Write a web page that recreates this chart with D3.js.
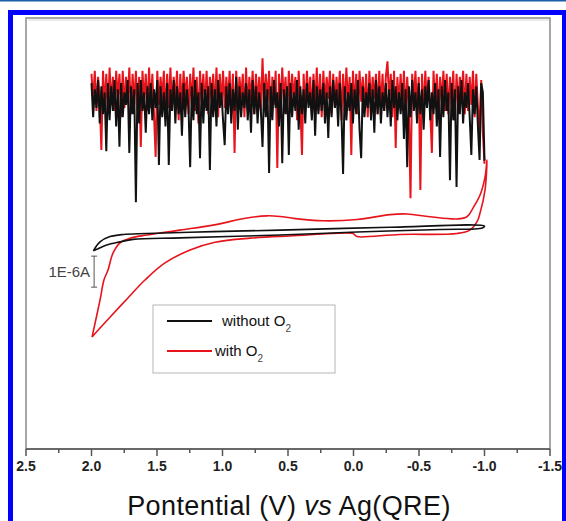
<!DOCTYPE html>
<html>
<head>
<meta charset="utf-8">
<script src="https://d3js.org/d3.v7.min.js"></script>
<style>
  body { margin: 0; background: #fff; }
  text { font-family: Arial, "Liberation Sans", sans-serif; }
</style>
</head>
<body>
<svg id="chart" width="566" height="521"></svg>
<script>
// x ticks (potential, V) and labels
var xTicks = [2.5, 2.0, 1.5, 1.0, 0.5, 0.0, -0.5, -1.0, -1.5];
var xTickLabels = ["2.5", "2.0", "1.5", "1.0", "0.5", "0.0", "-0.5", "-1.0", "-1.5"];

// noisy traces (current, uA) sampled evenly from 2.0 V to -1.0 V
var noiseBlack = [
  4.9, 3.8, 4.7, 4.1, 5.0, 3.6, 4.8, 3.9, 4.6, 2.7, 4.9, 3.7,
  4.8, 4.0, 5.0, 3.5, 4.7, 2.85, 4.9, 3.8, 4.6, 4.2, 5.0, 2.65,
  4.8, 3.9, 4.7, 1.06, 4.9, 3.6, 5.0, 4.0, 4.6, 3.3, 4.8, 3.9,
  4.9, 3.7, 4.7, 4.1, 5.0, 2.26, 4.8, 3.8, 4.6, 3.5, 4.9, 2.26,
  4.7, 4.0, 5.0, 3.6, 4.8, 3.9, 4.6, 3.2, 4.9, 3.8, 4.7, 4.1,
  2.19, 4.8, 3.7, 5.0, 3.9, 4.6, 2.48, 4.9, 3.6, 4.7, 4.0, 4.8,
  2.1, 4.9, 3.8, 4.7, 3.5, 5.0, 4.1, 4.6, 3.7, 2.9, 4.8, 3.9,
  4.9, 3.6, 4.7, 4.0, 5.1, 3.4, 4.8, 3.8, 4.6, 4.1, 4.9, 3.7,
  4.7, 3.3, 5.0, 3.9, 4.8, 3.6, 4.6, 4.0, 2.84, 4.9, 3.8, 4.7,
  2.0, 4.8, 3.7, 5.0, 4.1, 4.6, 3.5, 4.9, 2.32, 4.7, 3.9, 4.8,
  2.58, 4.9, 3.8, 4.6, 4.0, 5.0, 3.4, 4.8, 3.9, 4.7, 3.6, 4.9,
  4.1, 4.6, 3.7, 5.0, 3.2, 4.8, 3.9, 4.7, 4.0, 4.9, 3.6, 4.6,
  3.13, 4.8, 3.8, 5.0, 4.1, 4.7, 3.5, 4.9, 3.9, 1.97, 4.8, 3.7,
  4.6, 4.0, 4.9, 3.6, 4.7, 3.9, 5.0, 3.4, 2.48, 4.8, 3.8, 4.6,
  4.1, 4.9, 3.7, 4.7, 3.3, 5.0, 3.9, 4.8, 3.6, 4.6, 4.0, 4.9,
  3.8, 4.7, 3.5, 5.0, 4.1, 4.8, 3.7, 4.6, 3.9, 4.9, 3.1, 4.7,
  2.19, 4.8, 3.8, 5.0, 4.0, 4.6, 3.6, 4.9, 3.9, 4.7, 3.4, 4.8,
  4.1, 5.0, 3.7, 4.6, 3.9, 4.9, 3.5, 4.7, 2.52, 4.8, 3.8, 5.0,
  4.0, 4.6, 1.77, 4.9, 3.7, 4.7, 1.55, 4.8, 3.9, 5.0, 3.6, 4.6,
  4.1, 4.9, 3.8, 2.58, 4.7, 3.9, 4.8, 3.5, 2.42, 4.9, 4.6, 2.4
];
var noiseRed = [
  5.2, 4.3, 5.3, 4.0, 5.1, 4.4, 2.74, 5.3, 4.1, 5.2, 3.9, 5.4,
  4.2, 5.1, 4.0, 5.3, 4.4, 5.2, 3.8, 5.3, 4.1, 5.1, 4.3, 5.4,
  3.9, 5.2, 4.2, 5.3, 4.0, 5.1, 2.84, 5.3, 4.3, 5.2, 4.0, 5.4,
  4.1, 5.2, 3.9, 2.52, 5.3, 4.2, 5.1, 4.4, 5.3, 3.8, 5.2, 4.1,
  5.4, 4.0, 5.1, 4.3, 5.3, 3.7, 5.2, 4.1, 5.3, 4.4, 5.1, 3.9,
  5.2, 4.2, 5.4, 4.0, 5.1, 3.6, 5.3, 4.3, 5.2, 4.1, 5.3, 3.9,
  5.1, 4.4, 5.2, 4.0, 5.4, 3.8, 5.2, 4.2, 5.3, 4.1, 5.1, 4.3,
  5.3, 3.9, 5.2, 2.65, 5.3, 4.1, 5.1, 4.4, 5.2, 3.8, 5.4, 4.0,
  5.1, 4.3, 5.3, 3.9, 5.2, 4.2, 5.1, 4.0, 5.7, 4.1, 5.2, 4.3,
  5.3, 3.8, 5.1, 4.2, 5.3, 2.16, 5.2, 4.0, 5.4, 4.3, 5.1, 3.9,
  5.3, 4.1, 5.2, 4.4, 5.1, 3.7, 5.3, 4.2, 2.58, 5.2, 4.0, 5.3,
  4.3, 5.1, 3.9, 5.2, 4.1, 5.4, 4.0, 5.2, 3.8, 5.3, 4.2, 5.1,
  4.4, 5.3, 3.9, 5.2, 4.1, 5.1, 4.3, 5.3, 3.7, 5.2, 4.0, 5.4,
  4.2, 5.1, 2.58, 5.3, 4.1, 5.2, 3.9, 5.3, 4.3, 5.1, 4.0, 5.2,
  3.8, 5.3, 4.2, 5.1, 4.4, 5.2, 3.9, 5.3, 4.1, 5.2, 4.0, 5.1,
  5.6, 4.3, 5.2, 3.8, 5.3, 2.81, 5.1, 4.2, 5.2, 4.0, 5.3, 3.9,
  5.1, 4.1, 1.19, 5.2, 4.3, 5.3, 4.0, 5.1, 1.45, 5.2, 3.9, 5.3,
  4.2, 5.1, 4.0, 2.65, 5.3, 4.1, 5.2, 3.8, 5.1, 4.3, 5.3, 4.0,
  5.2, 3.9, 5.1, 4.2, 5.3, 3.7, 5.2, 4.1, 5.1, 4.3, 5.3, 3.9,
  5.2, 4.0, 5.1, 4.2, 5.3, 3.8, 5.2, 4.1, 3.4, 5.0, 3.3, 2.3
];

// CV loops: potential (V) and current (uA)
var cvBlackE = [1.986, 1.935, 1.859, 1.757, 1.579, 1.073, 0.561, -0.279, -1.0,
  -0.985, -0.66, -0.027, 0.561, 1.324, 1.683, 1.782, 1.884, 1.96, 1.986];
var cvBlackI = [-0.51, -0.22, -0.05, 0.02, 0.05, 0.11, 0.16, 0.25, 0.29,
  0.23, 0.18, 0.10, 0.0, -0.09, -0.14, -0.22, -0.32, -0.46, -0.51];

var cvRedE = [1.996, 1.935, 1.905, 1.874, 1.836, 1.782, 1.706, 1.576, 1.324, 1.073,
  0.813, 0.66, 0.561, 0.462, 0.233, -0.027, -0.279, -0.408, -0.584, -0.79,
  -0.866, -0.912, -0.966, -1.004, -1.019,
  -1.004, -0.966, -0.943, -0.889, -0.79, -0.355, -0.027, -0.011, 0.004, 0.485,
  0.79, 1.057, 1.248, 1.439, 1.592, 1.729, 1.859, 1.935, 1.996];
var cvRedI = [-3.29, -2.10, -1.45, -1.13, -0.58, -0.25, -0.10, 0.0, 0.16, 0.32,
  0.55, 0.62, 0.60, 0.54, 0.46, 0.50, 0.66, 0.68, 0.59, 0.52,
  0.59, 0.87, 1.29, 1.87, 2.42,
  1.45, 0.71, 0.43, 0.16, 0.05, 0.02, -0.05, 0.0, 0.05, -0.03,
  -0.10, -0.23, -0.48, -0.90, -1.45, -2.06, -2.65, -3.0, -3.29];

var seriesNames = ["without O", "with O"];
var seriesColors = ["#111111", "#e8141c"];

var svg = d3.select("#chart");

// blue frame of the figure
svg.append("rect").attr("x", 0).attr("y", 0).attr("width", 566).attr("height", 1.5).attr("fill", "#1d5ea8");
svg.append("rect").attr("x", 8).attr("y", 10).attr("width", 558).attr("height", 5).attr("fill", "#0000ff");
svg.append("rect").attr("x", 8).attr("y", 10).attr("width", 5).attr("height", 511).attr("fill", "#0000ff");
svg.append("rect").attr("x", 562).attr("y", 10).attr("width", 4).attr("height", 511).attr("fill", "#0000ff");

var plotL = 26, plotR = 550, plotT = 18, plotB = 449;

var x = d3.scaleLinear().domain([2.5, -1.5]).range([plotL, plotR]);
var y = d3.scaleLinear().domain([-6.9, 7.0]).range([plotB, plotT]);

// plot frame
svg.append("rect")
  .attr("x", plotL).attr("y", plotT)
  .attr("width", plotR - plotL).attr("height", plotB - plotT)
  .attr("fill", "none").attr("stroke", "#8a8a8a").attr("stroke-width", 1.5);
svg.append("line").attr("x1", plotL + 2).attr("x2", plotR - 1).attr("y1", plotT + 2).attr("y2", plotT + 2)
  .attr("stroke", "#d8d8d8").attr("stroke-width", 1);

// x axis
var minor = d3.range(2.5, -1.51, -0.25);
var xAxis = svg.append("g").attr("transform", "translate(0," + plotB + ")");
xAxis.append("line").attr("x1", plotL).attr("x2", plotR).attr("stroke", "#555").attr("stroke-width", 1.5);
xAxis.selectAll(".tk").data(minor).enter().append("line")
  .attr("x1", function (d) { return x(d); })
  .attr("x2", function (d) { return x(d); })
  .attr("y1", 0)
  .attr("y2", function (d, i) { return i % 2 === 0 ? 7 : 4; })
  .attr("stroke", "#555").attr("stroke-width", 1.5);
xAxis.selectAll(".lb").data(xTicks).enter().append("text")
  .attr("x", function (d) { return x(d); })
  .attr("y", 22)
  .attr("text-anchor", "middle")
  .style("font-size", "14px").style("font-weight", "bold").style("fill", "#222")
  .text(function (d, i) { return xTickLabels[i]; });

// axis title
var title = svg.append("text")
  .attr("x", 289).attr("y", 515)
  .attr("text-anchor", "middle")
  .style("font-size", "27px").style("letter-spacing", "0.4px").style("fill", "#111");
title.append("tspan").text("Pontential (V) ");
title.append("tspan").style("font-style", "italic").text("vs");
title.append("tspan").text(" Ag(QRE)");

// noise traces
var n = noiseBlack.length;
function eAt(i) { return 2.0 - i * 3.0 / (n - 1); }
var noiseLine = d3.line()
  .x(function (d, i) { return x(eAt(i)); })
  .y(function (d) { return y(d); });

svg.append("path").datum(noiseRed)
  .attr("d", noiseLine).attr("fill", "none")
  .attr("stroke", seriesColors[1]).attr("stroke-width", 2);
svg.append("path").datum(noiseBlack)
  .attr("d", noiseLine).attr("fill", "none")
  .attr("stroke", seriesColors[0]).attr("stroke-width", 2);

// CV loops
var cvLine = d3.line()
  .x(function (d) { return x(d[0]); })
  .y(function (d) { return y(d[1]); })
  .curve(d3.curveCatmullRom.alpha(0.5));

svg.append("path").datum(d3.zip(cvRedE, cvRedI))
  .attr("d", cvLine).attr("fill", "none")
  .attr("stroke", seriesColors[1]).attr("stroke-width", 1.6);
svg.append("path").datum(d3.zip(cvBlackE, cvBlackI))
  .attr("d", cvLine).attr("fill", "none")
  .attr("stroke", seriesColors[0]).attr("stroke-width", 1.6);

// scale bar 1E-6A
var barX = x(1.98), barTop = y(-0.68), barBot = y(-1.68);
svg.append("line").attr("x1", barX).attr("x2", barX).attr("y1", barTop).attr("y2", barBot)
  .attr("stroke", "#555").attr("stroke-width", 1);
[barTop, barBot].forEach(function (v) {
  svg.append("line").attr("x1", barX - 3).attr("x2", barX + 3).attr("y1", v).attr("y2", v)
    .attr("stroke", "#555").attr("stroke-width", 1);
});
svg.append("text")
  .attr("x", barX - 4).attr("y", (barTop + barBot) / 2 + 5)
  .attr("text-anchor", "end")
  .style("font-size", "15px").style("fill", "#444")
  .text("1E-6A");

// legend
var lg = svg.append("g").attr("transform", "translate(153,305)");
lg.append("rect").attr("width", 182).attr("height", 68)
  .attr("fill", "#fff").attr("stroke", "#b5b5b5").attr("stroke-width", 1);
seriesNames.forEach(function (name, i) {
  var yy = 16 + i * 30;
  lg.append("line").attr("x1", 14).attr("x2", 59).attr("y1", yy).attr("y2", yy)
    .attr("stroke", seriesColors[i]).attr("stroke-width", 2);
  var t = lg.append("text")
    .attr("x", i === 0 ? 69 : 62).attr("y", yy + 5)
    .style("font-size", "15px").style("fill", "#111");
  t.append("tspan").text(name);
  t.append("tspan").attr("dy", 6).style("font-size", "10px").style("fill", "#444").text("2");
});
</script>
</body>
</html>
